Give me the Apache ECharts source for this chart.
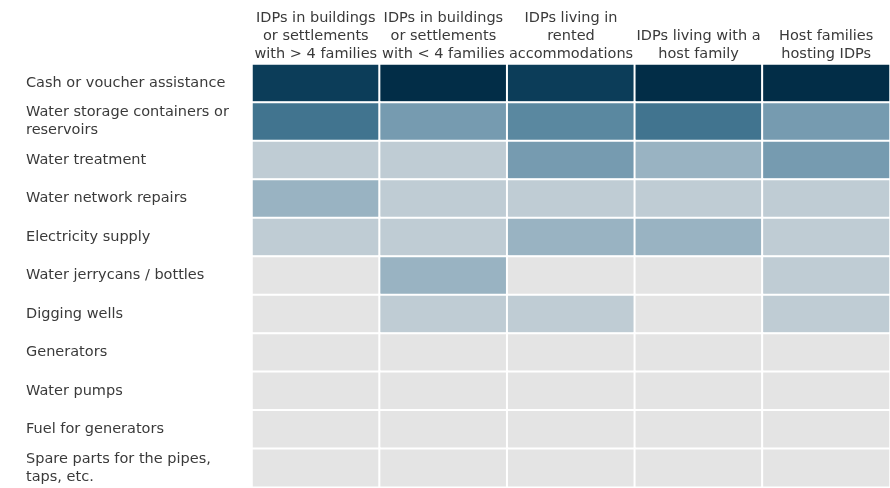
<!DOCTYPE html>
<html>
  <head>
    <meta charset="utf-8" />
    <title>Support needs heatmap</title>
    <script src="https://cdn.jsdelivr.net/npm/echarts@6.0.0/dist/echarts.min.js"></script>
  </head>
  <body style="margin: 0; padding: 0; border: 0">
    <div id="main" style="width: 890px; height: 488px"></div>
    <script type="text/javascript">
      var groups = [
        "IDPs in buildings\nor settlements\nwith > 4 families",
        "IDPs in buildings\nor settlements\nwith < 4 families",
        "IDPs living in\nrented\naccommodations",
        "IDPs living with a\nhost family",
        "Host families\nhosting IDPs",
      ];
      var needs = [
        "Cash or voucher assistance",
        "Water storage containers or\nreservoirs",
        "Water treatment",
        "Water network repairs",
        "Electricity supply",
        "Water jerrycans / bottles",
        "Digging wells",
        "Generators",
        "Water pumps",
        "Fuel for generators",
        "Spare parts for the pipes,\ntaps, etc.",
      ];
      // shade level per need (rows) and group (columns), 0 = lightest
      var levels = [
        [6, 7, 6, 7, 7],
        [5, 3, 4, 5, 3],
        [1, 1, 3, 2, 3],
        [2, 1, 1, 1, 1],
        [1, 1, 2, 2, 1],
        [0, 2, 0, 0, 1],
        [0, 1, 1, 0, 1],
        [0, 0, 0, 0, 0],
        [0, 0, 0, 0, 0],
        [0, 0, 0, 0, 0],
        [0, 0, 0, 0, 0],
      ];
      var shades = ["#e4e4e4", "#bfccd4", "#99b3c2", "#769bb0", "#5a88a0", "#41748f", "#0c3d59", "#022d47"];

      var data = [];
      levels.forEach(function (row, r) {
        row.forEach(function (v, c) {
          data.push([c, r, v]);
        });
      });

      var myChart = echarts.init(document.getElementById("main"));
      myChart.setOption({
        animation: false,
        textStyle: { fontFamily: "DejaVu Sans" },
        grid: { left: 252, right: -2, top: 64, bottom: -1 },
        xAxis: {
          type: "category",
          position: "top",
          data: groups,
          axisLine: { show: false },
          axisTick: { show: false },
          splitLine: { show: false },
          axisLabel: {
            interval: 0,
            margin: 1,
            color: "#3a3a3a",
            fontSize: 14.5,
            lineHeight: 18,
            align: "center",
          },
        },
        yAxis: {
          type: "category",
          inverse: true,
          data: needs,
          axisLine: { show: false },
          axisTick: { show: false },
          splitLine: { show: false },
          axisLabel: {
            interval: 0,
            margin: 226,
            align: "left",
            color: "#3a3a3a",
            fontSize: 14.5,
            lineHeight: 18,
            padding: [4, 0, 0, 0],
          },
        },
        visualMap: {
          show: false,
          type: "piecewise",
          dimension: 2,
          pieces: shades.map(function (col, i) {
            return { value: i, color: col };
          }),
        },
        series: [
          {
            type: "heatmap",
            data: data,
            label: { show: false },
            itemStyle: { borderColor: "#fff", borderWidth: 2 },
            emphasis: { disabled: true },
          },
        ],
      });
    </script>
  </body>
</html>
